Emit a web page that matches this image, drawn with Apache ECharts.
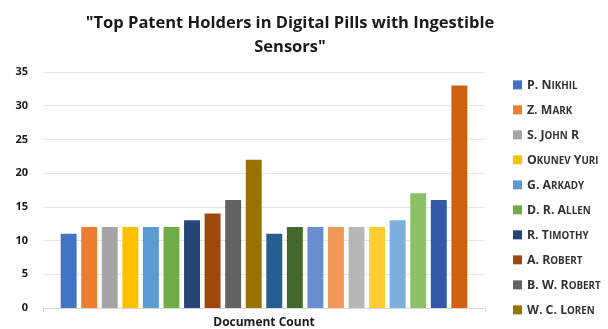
<!DOCTYPE html>
<html><head><meta charset="utf-8">
<script src="https://cdn.jsdelivr.net/npm/echarts@6/dist/echarts.min.js"></script>
<style>html,body{margin:0;padding:0;background:#fff}#c{width:608px;height:329px}</style>
</head><body><div id="c"></div>
<script>
const categories = ["Document Count"];
const names = ["P. Nikhil","Z. Mark","S. John R","Okunev Yuri","G. Arkady","D. R. Allen","R. Timothy","A. Robert","B. W. Robert","W. C. Loren",
  "Holder 11","Holder 12","Holder 13","Holder 14","Holder 15","Holder 16","Holder 17","Holder 18","Holder 19","Holder 20"];
const values = [11,12,12,12,12,12,13,14,16,22,11,12,12,12,12,12,13,17,16,33];
const colors = ["#4472C4","#ED7D31","#A5A5A5","#FFC000","#5B9BD5","#70AD47","#264478","#9E480E","#636363","#997300",
  "#255E91","#43682B","#698ED0","#F1975A","#B7B7B7","#FFCD33","#7CAFDD","#8CC168","#3359A6","#D0600F"];
const legendNames = names.slice(0,10);
const yTicks = [0,5,10,15,20,25,30,35];

function smallCaps(s){
  let out='', cur=null, buf='';
  for (const ch of s){
    const st = (ch>='a'&&ch<='z') ? 'b' : 'a';
    const c = st==='b' ? ch.toUpperCase() : ch;
    if (st!==cur){ if(buf) out+='{'+cur+'|'+buf+'}'; buf=''; cur=st; }
    buf+=c;
  }
  if(buf) out+='{'+cur+'|'+buf+'}';
  return out;
}

const chart = echarts.init(document.getElementById('c'), null, {renderer:'canvas'});
chart.setOption({
  animation:false,
  color: colors,
  title:{
    text:'"Top Patent Holders in Digital Pills with Ingestible\nSensors"',
    left: 285, top: 6, textAlign:'center',
    textStyle:{fontFamily:'Open Sans', fontWeight:'bold', fontSize:16.5, color:'#1a1a1a', lineHeight:24}
  },
  legend:{
    data: legendNames,
    orient:'vertical', left:508, top:74, itemGap:13,
    itemWidth:9, itemHeight:9, icon:'rect',
    formatter: n => smallCaps(n),
    textStyle:{
      color:'#333',
      rich:{
        a:{fontFamily:'Open Sans', fontWeight:'bold', fontSize:12.3, color:'#333', lineHeight:12.3, verticalAlign:'bottom'},
        b:{fontFamily:'Open Sans', fontWeight:'bold', fontSize:9.8, color:'#333', lineHeight:9.8, verticalAlign:'bottom'}
      }
    }
  },
  grid:{left:43, right:123, top:72, bottom:21, containLabel:false, outerBoundsMode:'none'},
  xAxis:{
    type:'category', data: categories,
    name:'Document Count', nameLocation:'middle', nameGap:9,
    nameTextStyle:{fontFamily:'Open Sans', fontWeight:'bold', fontSize:12, color:'#1a1a1a'},
    axisLabel:{show:false},
    axisLine:{lineStyle:{color:'#D9D9D9'}},
    axisTick:{show:true, length:4, lineStyle:{color:'#D9D9D9'}}
  },
  yAxis:{
    type:'value', min:0, max:35, interval:5,
    axisLabel:{fontFamily:'Open Sans', fontWeight:'bold', fontSize:11, color:'#1a1a1a', margin:15},
    axisLine:{show:false}, axisTick:{show:false},
    splitLine:{lineStyle:{color:'#E4E4E4'}}
  },
  series: names.map((n,i)=>({
    name:n, type:'bar', data:[values[i]],
    barCategoryGap:'8%', barGap:'29%',
    itemStyle:{color:colors[i]}
  }))
});
</script></body></html>
